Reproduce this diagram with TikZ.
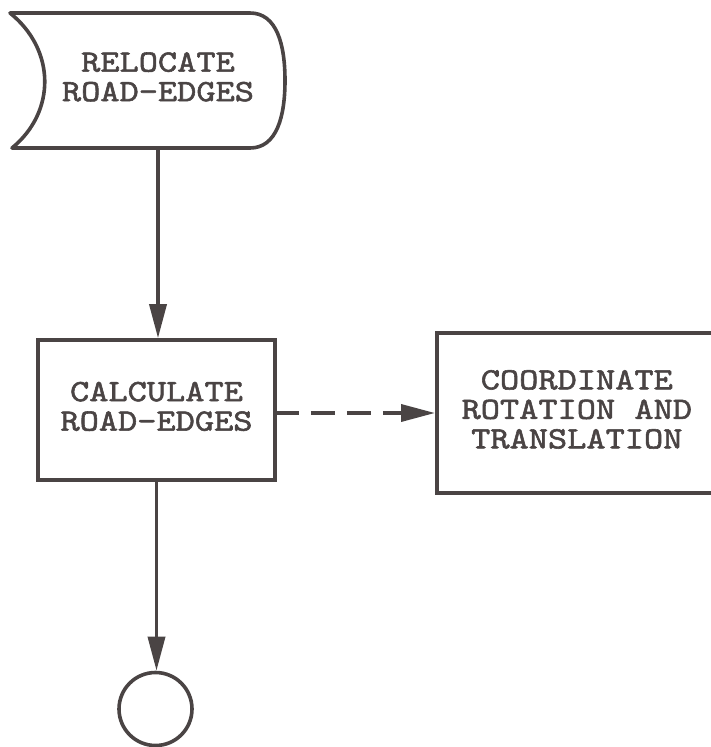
\documentclass[tikz,border=0pt]{standalone}
\usepackage{fontspec}
\newfontfamily\typew{lmmono10-regular.otf}[FakeBold=1.8,FakeStretch=1.18]
\usetikzlibrary{arrows.meta,calc}
\definecolor{ink}{RGB}{74,68,68}
\newcommand{\wtxt}[1]{\raisebox{-4pt}{\begin{tabular}{@{}c@{}}#1\end{tabular}}}
\begin{document}
\begin{tikzpicture}[x=1pt,y=-1pt,
  every node/.style={text=ink,font=\typew\fontsize{31}{29.5}\selectfont,inner sep=0pt},
  boxnode/.style={draw=ink,line width=3.6pt,rectangle},
  flow/.style={draw=ink,line width=3.6pt,-{Triangle[length=34pt,width=17pt]}},
  dflow/.style={flow,dash pattern=on 24pt off 12pt,dash phase=2pt}]
\useasboundingbox (0,0) rectangle (711,747);
\clip (0,0) rectangle (711,747);
% top shape
\draw[ink,line width=3.6pt,line join=round]
  (10,13) -- (250,13)
  .. controls (277,13) and (285,45) .. (285,80.5)
  .. controls (285,116) and (277,148) .. (250,148)
  -- (12,148)
  .. controls (56,112) and (56,50) .. (10,13) -- cycle;
\node[minimum height=135pt,minimum width=200pt] (reloc) at (158,80.5)
  {\wtxt{RELOCATE\\ROAD-EDGES}};
\node[boxnode,minimum width=237pt,minimum height=140pt] (calc) at (156.5,410)
  {\wtxt{CALCULATE\\ROAD-EDGES}};
\node[boxnode,minimum width=290pt,minimum height=160pt,anchor=west] (coord) at (435,413)
  {\hspace*{-10pt}\wtxt{COORDINATE\\ROTATION AND\\TRANSLATION}};
\node[draw=ink,line width=3.6pt,circle,minimum size=73pt] (end) at (155.5,709) {};
\coordinate (ds) at ($(calc.east)+(0,3)$);
\draw[flow] (reloc.south) -- (calc.north -| reloc.south);
\draw[dflow] (ds) -- (ds -| coord.west);
\draw[flow] (calc.south) -- (end.north -| calc.south);
\end{tikzpicture}
\end{document}
